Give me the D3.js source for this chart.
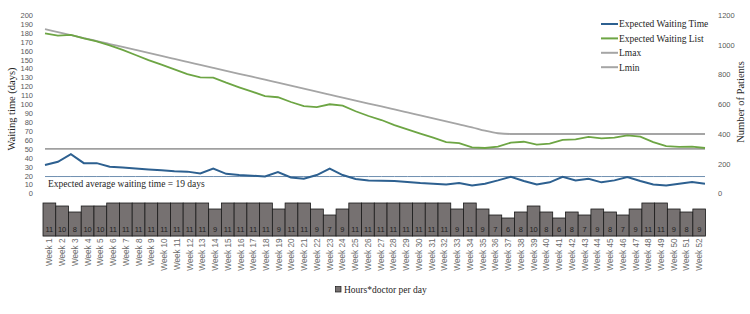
<!DOCTYPE html>
<html>
<head>
<meta charset="utf-8">
<script src="https://cdn.jsdelivr.net/npm/d3@7"></script>
<style>
  body { margin: 0; background: #fff; }
  .tick text { fill: #595959; font-family: "Liberation Sans", Arial, sans-serif; font-size: 7.5px; }
  .serif { font-family: "Liberation Serif", "Times New Roman", serif; fill: #262626; }
</style>
</head>
<body>
<div id="chart"></div>
<script>
// data
const weeks = d3.range(1, 53).map(d => "Week " + d);
const hours = [11,10,8,10,10,11,11,11,11,11,11,11,11,9,11,11,11,11,9,11,11,9,7,9,11,11,11,11,11,11,11,11,9,11,9,7,6,8,10,8,6,8,7,9,8,7,9,11,11,9,8,9];
const waitTime = [32,35.5,44,34,34,30,29,28,27,26,25,24.5,22.5,28,22,20.7,20,19,24,18,16.6,20.7,28,20.7,16.2,14.5,14.3,14,12.8,11.7,11,10,11.7,9,11,14.7,18.8,14,10,12.5,18.8,14.7,16.6,12.5,14.7,18.4,14,10,9,11,12.8,11];
const waitList = [1077,1061,1066,1043,1023,996,965,931,897,866,835,803,781,779,745,714,685,655,647,615,588,581,600,591,553,521,494,460,431,402,375,346,339,310,306,315,342,348,328,335,360,364,380,371,375,391,382,346,319,313,315,306];
const lmax = [1105,1085,1065,1045,1025,1005,985,965,945,925,905,885,865,845,825,805,785,765,745,725,705,685,665,645,625,605,585,565,545,525,505,485,465,445,422,405,400,400,400,400,400,400,400,400,400,400,400,400,400,400,400,400];
const lmin = 300;
const avgWait = 19;
const daysTicks = d3.range(0, 201, 10);
const patientTicks = [0, 200, 400, 600, 800, 1000, 1200];

const width = 750, height = 314;

const svg = d3.select("#chart")
  .append("svg")
    .attr("width", width)
    .attr("height", height);

svg.append("rect").attr("width", width).attr("height", height).attr("fill", "#fff");

// scales
const xLine = d3.scalePoint().domain(weeks).range([45, 705]);
const xBar = d3.scaleBand().domain(weeks).range([43, 705.6]).padding(0);
const yDays = d3.scaleLinear().domain([0, 200]).range([193.5, 15]);
const yPat = d3.scaleLinear().domain([0, 1200]).range([193.5, 15]);
const yHours = d3.scaleLinear().domain([0, 11]).range([236, 203]);

// left axis
svg.append("g")
  .attr("transform", "translate(33,0)")
  .call(d3.axisLeft(yDays).tickValues(daysTicks).tickSize(0).tickPadding(0))
  .call(g => g.select(".domain").remove());

// right axis
svg.append("g")
  .attr("transform", "translate(718,0)")
  .call(d3.axisRight(yPat).tickValues(patientTicks).tickFormat(d3.format("d")).tickSize(0).tickPadding(0))
  .call(g => g.select(".domain").remove());

// axis titles
svg.append("text")
  .attr("class", "serif")
  .attr("transform", "translate(15,109) rotate(-90)")
  .attr("text-anchor", "middle")
  .style("font-size", "10.5px")
  .text("Waiting time (days)");

svg.append("text")
  .attr("class", "serif")
  .attr("transform", "translate(744,102) rotate(-90)")
  .attr("text-anchor", "middle")
  .style("font-size", "10.5px")
  .text("Number of Patients");

// bars
svg.append("line")
  .attr("x1", xBar.range()[0]).attr("x2", xBar.range()[1])
  .attr("y1", yHours(0) + 0.5).attr("y2", yHours(0) + 0.5)
  .attr("stroke", "#d9d9d9");

svg.selectAll(".bar")
  .data(hours)
  .join("rect")
    .attr("class", "bar")
    .attr("x", (d, i) => xBar(weeks[i]))
    .attr("y", d => yHours(d))
    .attr("width", xBar.bandwidth())
    .attr("height", d => yHours(0) - yHours(d))
    .attr("fill", "#767171")
    .attr("stroke", "#1a1a1a")
    .attr("stroke-width", 0.8);

svg.selectAll(".barlabel")
  .data(hours)
  .join("text")
    .attr("class", "barlabel")
    .attr("x", (d, i) => xBar(weeks[i]) + xBar.bandwidth() / 2)
    .attr("y", 231.5)
    .attr("text-anchor", "middle")
    .style("font-family", "'Liberation Sans', Arial, sans-serif")
    .style("font-size", "7.5px")
    .style("fill", "#1f1f1f")
    .text(d => d);

// week labels
svg.selectAll(".weeklabel")
  .data(weeks)
  .join("text")
    .attr("class", "weeklabel")
    .attr("transform", d => `translate(${xBar(d) + xBar.bandwidth() / 2 + 3},238.5) rotate(-90)`)
    .attr("text-anchor", "end")
    .style("font-family", "'Liberation Sans', Arial, sans-serif")
    .style("font-size", "8.2px")
    .style("fill", "#6b6b6b")
    .text(d => d);

// reference lines
const flat = (scale, v) => d3.line().x(d => xLine(d)).y(() => scale(v));

svg.append("path")
  .datum(weeks)
  .attr("fill", "none")
  .attr("stroke", "#6f8fb0")
  .attr("stroke-width", 1)
  .attr("d", flat(yDays, avgWait));

svg.append("path")
  .datum(weeks)
  .attr("fill", "none")
  .attr("stroke", "#a0a0a0")
  .attr("stroke-width", 1.8)
  .attr("d", flat(yPat, lmin));

// series lines
svg.append("path")
  .datum(lmax)
  .attr("fill", "none")
  .attr("stroke", "#a5a5a5")
  .attr("stroke-width", 1.8)
  .attr("d", d3.line().x((d, i) => xLine(weeks[i])).y(d => yPat(d)).curve(d3.curveMonotoneX));

svg.append("path")
  .datum(waitList)
  .attr("fill", "none")
  .attr("stroke", "#6da544")
  .attr("stroke-width", 1.8)
  .attr("d", d3.line().x((d, i) => xLine(weeks[i])).y(d => yPat(d)));

svg.append("path")
  .datum(waitTime)
  .attr("fill", "none")
  .attr("stroke", "#2d6090")
  .attr("stroke-width", 2)
  .attr("d", d3.line().x((d, i) => xLine(weeks[i])).y(d => yDays(d)));

// average note
svg.append("text")
  .attr("class", "serif")
  .attr("x", 48)
  .attr("y", 187)
  .style("font-size", "9.5px")
  .text("Expected average waiting time = " + avgWait + " days");

// legend
const legendItems = [
  {name: "Expected Waiting Time", color: "#2d6090"},
  {name: "Expected Waiting List", color: "#6da544"},
  {name: "Lmax", color: "#a5a5a5"},
  {name: "Lmin", color: "#a5a5a5"}
];
const legend = svg.append("g");
legendItems.forEach((item, i) => {
  const y = 24 + i * 14.4;
  legend.append("line")
    .attr("x1", 601).attr("x2", 618)
    .attr("y1", y).attr("y2", y)
    .attr("stroke", item.color)
    .attr("stroke-width", 2);
  legend.append("text")
    .attr("class", "serif")
    .attr("x", 619)
    .attr("y", y + 3.3)
    .style("font-size", "9.5px")
    .text(item.name);
});

// bottom legend
svg.append("rect")
  .attr("x", 335.5).attr("y", 286.5)
  .attr("width", 5.5).attr("height", 5.5)
  .attr("fill", "#767171")
  .attr("stroke", "#1a1a1a")
  .attr("stroke-width", 0.7);
svg.append("text")
  .attr("class", "serif")
  .attr("x", 344)
  .attr("y", 292.5)
  .style("font-size", "9.5px")
  .text("Hours*doctor per day");
</script>
</body>
</html>
